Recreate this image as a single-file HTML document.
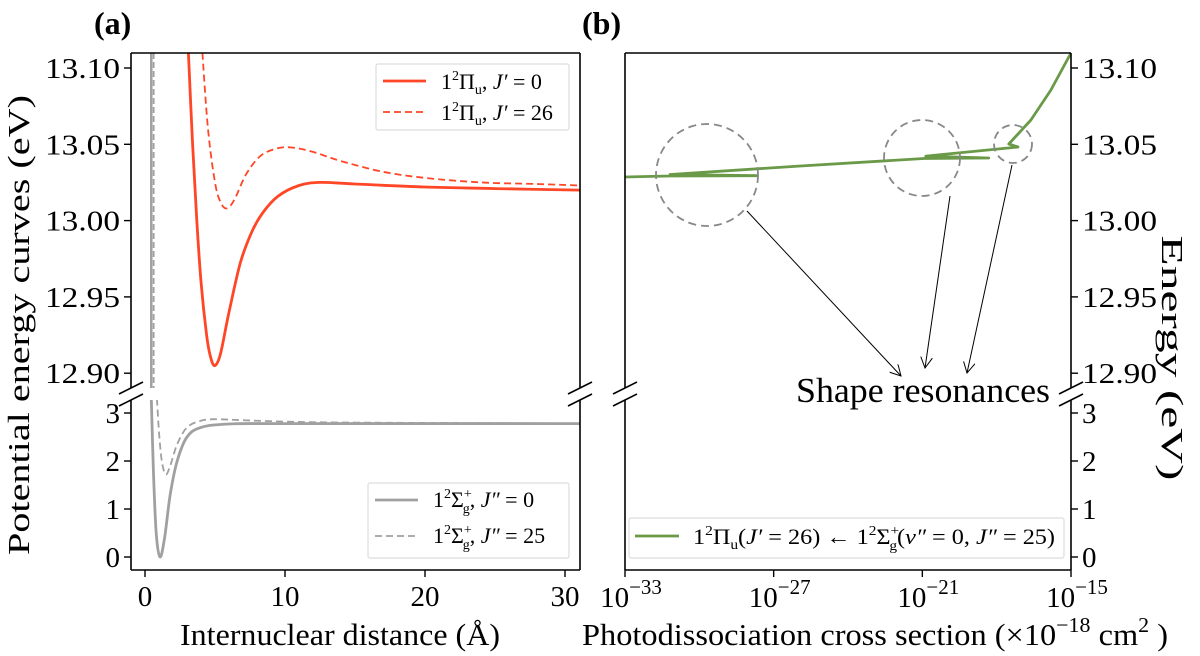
<!DOCTYPE html>
<html><head><meta charset="utf-8"><style>
html,body{margin:0;padding:0;background:#fff;}
svg{display:block;font-family:"Liberation Serif",serif;}
</style></head><body>
<svg id="fig" width="1200" height="656" viewBox="0 0 1200 656">
<defs>
<clipPath id="cTopL"><rect x="131" y="53" width="449" height="335"/></clipPath>
<clipPath id="cBotL"><rect x="131" y="400" width="449" height="170"/></clipPath>
<clipPath id="cTopR"><rect x="625" y="53" width="446" height="335"/></clipPath>
<marker id="arr" viewBox="0 0 12 12" refX="11" refY="6" markerWidth="12" markerHeight="12" orient="auto" markerUnits="userSpaceOnUse"><path d="M0,0 L11,6 L0,12" fill="none" stroke="#000" stroke-width="1"/></marker>
</defs>
<g id="root"></g>
</svg>
<script>
// ---- data ----
const piJ0R = [3.1,3.4,3.7,4.0,4.4,4.7,5.0,5.4,6.0,6.8,7.6,8.4,9.5,11,12.5,15,20,25,31.07];
const piJ0E = [13.11,13.05,13.00,12.96,12.925,12.91,12.905,12.913,12.94,12.972,12.992,13.005,13.016,13.023,13.025,13.024,13.022,13.021,13.020];
const piJ26R = [4.1,4.5,5.0,5.4,5.85,6.4,7.2,8.2,9.3,10.4,12,14,17,20,24,28,31.07];
const piJ26E = [13.11,13.06,13.025,13.012,13.008,13.014,13.03,13.042,13.047,13.048,13.045,13.039,13.032,13.028,13.025,13.024,13.023];
const sgJ0R = [0.45,0.6,0.8,1.07,1.4,1.8,2.3,3,4,6,10,31.07];
const sgJ0E = [3.3,1.8,0.5,0,0.4,1.3,2.0,2.5,2.7,2.77,2.78,2.78];
const sgJ25R = [0.85,1.0,1.2,1.48,1.8,2.3,3,4,5,7,10,15,31.07];
const sgJ25E = [3.3,2.6,2.0,1.72,1.9,2.35,2.7,2.84,2.87,2.85,2.82,2.8,2.78];
const xsLogSigma = [-33,-31.18,-27.66,-31.18,-25.92,-20.94,-18.32,-20.86,-17.14,-17.51,-16.62,-15.81,-15.0];
const xsEnergy = [13.0286,13.0292,13.0294,13.0302,13.0358,13.0407,13.0410,13.0423,13.0482,13.0502,13.0659,13.0856,13.1098];
const topTicks = [13.10,13.05,13.00,12.95,12.90];
const topTickLabels = ["13.10","13.05","13.00","12.95","12.90"];
const botTicks = [0,1,2,3];
const rTicks = [0,10,20,30];
const logTicks = [-33,-27,-21,-15];

// ---- scales ----
const xL = r => 145 + r*14;
const yT = e => 68 + (13.10-e)*1526;
const yB = e => 557 - e*48;
const xR = l => 625 + (l+33)*(446/18);

const NS = "http://www.w3.org/2000/svg";
const root = document.getElementById('root');
function mk(tag, attrs, parent){
  const el = document.createElementNS(NS, tag);
  for (const k in attrs) el.setAttribute(k, attrs[k]);
  (parent||root).appendChild(el);
  return el;
}
function smooth(xs, ys){
  const p = xs.map((x,i)=>[x,ys[i]]);
  let d = `M${p[0][0].toFixed(1)},${p[0][1].toFixed(1)}`;
  for (let i=0;i<p.length-1;i++){
    const p0=p[Math.max(i-1,0)], p1=p[i], p2=p[i+1], p3=p[Math.min(i+2,p.length-1)];
    const c1=[p1[0]+(p2[0]-p0[0])/6, p1[1]+(p2[1]-p0[1])/6];
    const c2=[p2[0]-(p3[0]-p1[0])/6, p2[1]-(p3[1]-p1[1])/6];
    d += ` C${c1[0].toFixed(1)},${c1[1].toFixed(1)} ${c2[0].toFixed(1)},${c2[1].toFixed(1)} ${p2[0].toFixed(1)},${p2[1].toFixed(1)}`;
  }
  return d;
}
const RED="#ff4626", GRAY="#a0a0a0", GREEN="#6a9a48";

// ---- panel labels ----
let t;
t = mk('text',{x:94,y:34,'font-size':32,'font-weight':'bold'}); t.textContent='(a)';
 
t = mk('text',{x:582,y:34,'font-size':32,'font-weight':'bold'}); t.textContent='(b)';
 

// ---- left panel curves ----
let g = mk('g',{'clip-path':'url(#cTopL)'});
 
let el;
el = mk('line',{x1:xL(0.45),y1:53,x2:xL(0.45),y2:388,stroke:GRAY,'stroke-width':2.5},g);
 
el = mk('line',{x1:xL(0.62),y1:53,x2:xL(0.62),y2:388,stroke:GRAY,'stroke-width':1.8,'stroke-dasharray':'6,3'},g);
 
el = mk('path',{d:smooth(piJ0R.map(xL),piJ0E.map(yT)),fill:'none',stroke:RED,'stroke-width':2.8},g);
 
el = mk('path',{d:smooth(piJ26R.map(xL),piJ26E.map(yT)),fill:'none',stroke:RED,'stroke-width':1.8,'stroke-dasharray':'7,4'},g);
 

g = mk('g',{'clip-path':'url(#cBotL)'});
 
el = mk('path',{d:smooth(sgJ0R.map(xL),sgJ0E.map(yB)),fill:'none',stroke:GRAY,'stroke-width':2.8},g);
 
el = mk('path',{d:smooth(sgJ25R.map(xL),sgJ25E.map(yB)),fill:'none',stroke:GRAY,'stroke-width':1.8,'stroke-dasharray':'7,4'},g);
 

// ---- right panel curve ----
g = mk('g',{'clip-path':'url(#cTopR)'});
 
el = mk('polyline',{points:xsLogSigma.map((l,i)=>xR(l).toFixed(1)+','+yT(xsEnergy[i]).toFixed(1)).join(' '),fill:'none',stroke:GREEN,'stroke-width':2.8,'stroke-linejoin':'round'},g);
 

// circles + arrows
const circ = [[707,175,51],[922,158,38],[1013,144,19]];
circ.forEach((c,i)=>{
  const e = mk('circle',{cx:c[0],cy:c[1],r:c[2],fill:'none',stroke:'#888','stroke-width':1.8,'stroke-dasharray':'8,5'});
  
  
});
const arrs = [[747,211,901,376],[950,196,925,368],[1012,165,967,373]];
arrs.forEach((a,i)=>{
  const e = mk('line',{x1:a[0],y1:a[1],x2:a[2],y2:a[3],stroke:'#000','stroke-width':1,'marker-end':'url(#arr)'});
  
  
});
t = mk('text',{x:796,y:402,'font-size':35,textLength:254,lengthAdjust:'spacingAndGlyphs'}); t.textContent='Shape resonances';
 

// ---- axes frames ----
function frame(x1,y1,x2,y2,name,openTop,openBottom){
  const gg = mk('g',{stroke:'#000','stroke-width':1.6,fill:'none'});
   
  mk('line',{x1:x1,y1:y1,x2:x1,y2:y2},gg);
  mk('line',{x1:x2,y1:y1,x2:x2,y2:y2},gg);
  if(!openTop) mk('line',{x1:x1,y1:y1,x2:x2,y2:y1},gg);
  if(!openBottom) mk('line',{x1:x1,y1:y2,x2:x2,y2:y2},gg);
}
frame(131,53,580,388,'upper-left-axes',false,true);
frame(131,400,580,570,'lower-left-axes',true,false);
frame(625,53,1071,388,'upper-right-axes',false,true);
frame(625,400,1071,570,'lower-right-axes',true,false);
// break marks
[131,580,625,1071].forEach((x,i)=>{
  [388,400].forEach(y=>{
    const e = mk('line',{x1:x-12,y1:y+6,x2:x+12,y2:y-6,stroke:'#000','stroke-width':1.6});
    
    
  });
});

// ---- ticks ----
topTicks.forEach((v,i)=>{
  const y=yT(v);
  mk('line',{x1:131,y1:y,x2:124,y2:y,stroke:'#000','stroke-width':1.4});
  let tt = mk('text',{x:120,y:y+10,'font-size':29,'text-anchor':'end',textLength:75,lengthAdjust:'spacingAndGlyphs'}); tt.textContent=topTickLabels[i];
   
  mk('line',{x1:1071,y1:y,x2:1078,y2:y,stroke:'#000','stroke-width':1.4});
  tt = mk('text',{x:1082,y:y+10,'font-size':29,'text-anchor':'start',textLength:75,lengthAdjust:'spacingAndGlyphs'}); tt.textContent=topTickLabels[i];
   
});
botTicks.forEach(v=>{
  const y=yB(v);
  mk('line',{x1:131,y1:y,x2:124,y2:y,stroke:'#000','stroke-width':1.4});
  let tt = mk('text',{x:120,y:y+10,'font-size':29,'text-anchor':'end'}); tt.textContent=String(v);
   
  mk('line',{x1:1071,y1:y,x2:1078,y2:y,stroke:'#000','stroke-width':1.4});
  tt = mk('text',{x:1082,y:y+10,'font-size':29,'text-anchor':'start'}); tt.textContent=String(v);
   
});
rTicks.forEach(v=>{
  const x=xL(v);
  mk('line',{x1:x,y1:570,x2:x,y2:577,stroke:'#000','stroke-width':1.4});
  const tt = mk('text',{x:x,y:606,'font-size':29,'text-anchor':'middle'}); tt.textContent=String(v);
   
});
logTicks.forEach(v=>{
  const x=xR(v);
  mk('line',{x1:x,y1:570,x2:x,y2:577,stroke:'#000','stroke-width':1.4});
  const tt = mk('text',{x:x+6,y:607,'font-size':29,'text-anchor':'middle'});
  tt.innerHTML='10<tspan dy="-13" font-size="21">−'+Math.abs(v)+'</tspan>';
   
});
</script>

<!-- static labels & legends -->
<svg width="1200" height="656" style="position:absolute;left:0;top:0;font-family:'Liberation Serif',serif">
<text x="180" y="645" font-size="31" textLength="320" lengthAdjust="spacingAndGlyphs">Internuclear distance (Å)</text>
<text x="582" y="645" font-size="31" textLength="586" lengthAdjust="spacingAndGlyphs">Photodissociation cross section (×10<tspan dy="-13" font-size="21">−18</tspan><tspan dy="13"> cm</tspan><tspan dy="-13" font-size="21">2</tspan><tspan dy="13"> )</tspan></text>
<text transform="translate(29,325) rotate(-90)" font-size="31" text-anchor="middle" textLength="460" lengthAdjust="spacingAndGlyphs">Potential energy curves (eV)</text>
<text transform="translate(1162,358) rotate(90)" font-size="31" text-anchor="middle" textLength="245" lengthAdjust="spacingAndGlyphs">Energy (eV)</text>

<g>
<rect x="376" y="64" width="193" height="66" fill="#fff" stroke="#ddd" stroke-width="1.2" rx="2"/>
<line x1="383" y1="81" x2="426" y2="81" stroke="#ff4626" stroke-width="2.8"/>
<line x1="383" y1="112" x2="426" y2="112" stroke="#ff4626" stroke-width="1.8" stroke-dasharray="7,4"/>
<text x="441" y="89" font-size="22">1<tspan dy="-9" font-size="14">2</tspan><tspan dy="9">Π</tspan><tspan dy="5" font-size="14">u</tspan><tspan dy="-5">, </tspan><tspan font-style="italic">J′</tspan> = 0</text>
<text x="441" y="120" font-size="22">1<tspan dy="-9" font-size="14">2</tspan><tspan dy="9">Π</tspan><tspan dy="5" font-size="14">u</tspan><tspan dy="-5">, </tspan><tspan font-style="italic">J′</tspan> = 26</text>
</g>
<g>
<rect x="368" y="483" width="201" height="75" fill="#fff" stroke="#ddd" stroke-width="1.2" rx="2"/>
<line x1="375" y1="500" x2="418" y2="500" stroke="#a0a0a0" stroke-width="2.8"/>
<line x1="375" y1="536" x2="418" y2="536" stroke="#a0a0a0" stroke-width="1.8" stroke-dasharray="7,4"/>
<text x="433" y="507" font-size="22">1<tspan dy="-9" font-size="14">2</tspan><tspan dy="9">Σ</tspan><tspan dy="-9" font-size="14">+</tspan><tspan dx="-9" dy="15" font-size="14">g</tspan><tspan dy="-6">, </tspan><tspan font-style="italic">J″</tspan> = 0</text>
<text x="433" y="543" font-size="22">1<tspan dy="-9" font-size="14">2</tspan><tspan dy="9">Σ</tspan><tspan dy="-9" font-size="14">+</tspan><tspan dx="-9" dy="15" font-size="14">g</tspan><tspan dy="-6">, </tspan><tspan font-style="italic">J″</tspan> = 25</text>
</g>
<g>
<rect x="629" y="518" width="435" height="40" fill="#fff" stroke="#ddd" stroke-width="1.2" rx="2"/>
<line x1="635" y1="536" x2="679" y2="536" stroke="#6a9a48" stroke-width="2.8"/>
<text x="693" y="544" font-size="22" textLength="362" lengthAdjust="spacingAndGlyphs">1<tspan dy="-9" font-size="14">2</tspan><tspan dy="9">Π</tspan><tspan dy="5" font-size="14">u</tspan><tspan dy="-5">(</tspan><tspan font-style="italic">J′</tspan> = 26) ← 1<tspan dy="-9" font-size="14">2</tspan><tspan dy="9">Σ</tspan><tspan dy="-9" font-size="14">+</tspan><tspan dx="-9" dy="15" font-size="14">g</tspan><tspan dy="-6">(</tspan><tspan font-style="italic">ν″</tspan> = 0, <tspan font-style="italic">J″</tspan> = 25)</text>
</g>
</svg>
</body></html>
